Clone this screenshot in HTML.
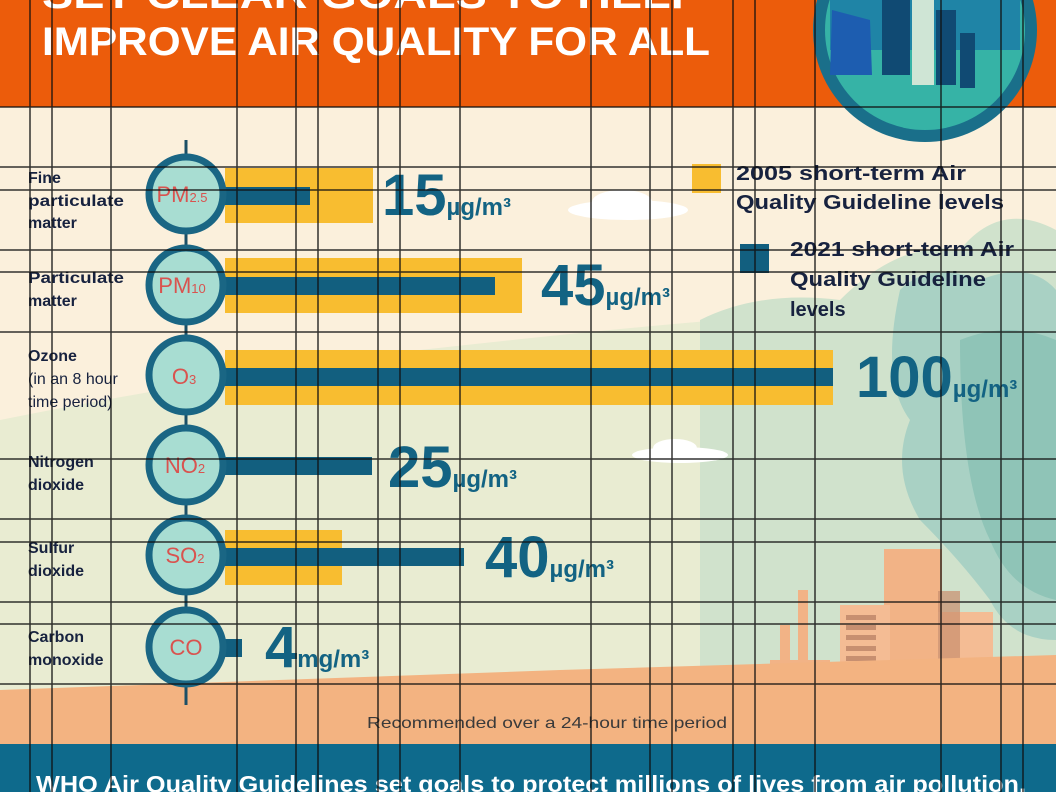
<!DOCTYPE html>
<html><head><meta charset="utf-8"><style>
html,body{margin:0;padding:0;width:1056px;height:792px;overflow:hidden;background:#fbf0dc}
svg{display:block}
text{font-family:"Liberation Sans","DejaVu Sans",sans-serif}
</style></head><body>
<svg width="1056" height="792" viewBox="0 0 1056 792" xmlns="http://www.w3.org/2000/svg">
<rect width="1056" height="792" fill="#fbf0dc"/>
<path d="M0 420 Q200 380 420 350 Q600 330 720 320 Q800 300 900 300 L1056 290 L1056 700 L0 700Z" fill="#e9ecd2"/>
<path d="M700 320 Q760 290 840 300 Q900 240 960 250 Q1000 200 1056 230 L1056 690 L700 690Z" fill="#d0e2cc"/>
<path d="M900 290 Q930 260 980 280 Q1030 260 1056 290 L1056 640 Q1010 640 990 600 Q960 560 920 520 Q890 470 910 420 Q880 380 900 290Z" fill="#a9d1c4"/>
<path d="M960 340 Q1010 320 1056 340 L1056 600 Q1010 590 990 540 Q960 480 960 340Z" fill="#8fc4b7"/>
<ellipse cx="628" cy="210" rx="60" ry="10" fill="#fff"/>
<ellipse cx="622" cy="202" rx="30" ry="12" fill="#fff"/>
<ellipse cx="680" cy="455" rx="48" ry="8" fill="#fff"/>
<ellipse cx="675" cy="448" rx="22" ry="9" fill="#fff"/>
<g fill="#f2b386">
<rect x="884" y="549" width="58" height="145"/>
<rect x="840" y="605" width="50" height="90" fill="#f4bc94"/>
<rect x="938" y="612" width="55" height="80" fill="#f4bc94"/>
<rect x="798" y="590" width="10" height="104"/>
<rect x="780" y="625" width="10" height="70"/>
<rect x="770" y="660" width="60" height="34"/>
</g>
<rect x="938" y="591" width="22" height="100" fill="#c98e6e" opacity=".7"/>
<g fill="#c78f70"><rect x="846" y="615" width="30" height="5"/><rect x="846" y="625" width="30" height="5"/><rect x="846" y="635" width="30" height="5"/><rect x="846" y="646" width="30" height="5"/><rect x="846" y="656" width="30" height="5"/><rect x="846" y="667" width="30" height="5"/><rect x="846" y="678" width="30" height="5"/></g>
<path d="M0 690 L560 670 L1056 655 L1056 744 L0 744Z" fill="#f3b381"/>
<rect width="1056" height="107" fill="#ec5c0b"/>
<text x="42" y="8" fill="#fff" font-size="40" font-weight="bold" textLength="660" lengthAdjust="spacingAndGlyphs">SET CLEAR GOALS TO HELP</text>
<text x="42" y="55" fill="#fff" font-size="40" font-weight="bold" textLength="668" lengthAdjust="spacingAndGlyphs">IMPROVE AIR QUALITY FOR ALL</text>
<circle cx="925" cy="30" r="112" fill="#1a6f8a"/>
<circle cx="925" cy="30" r="100" fill="#36b3a6"/>
<rect x="830" y="-10" width="190" height="60" fill="#1f84a6"/>
<rect x="882" y="-5" width="28" height="80" fill="#104a73"/>
<rect x="912" y="-5" width="22" height="90" fill="#cfe5d5"/>
<rect x="936" y="10" width="20" height="75" fill="#104a73"/>
<rect x="960" y="33" width="15" height="55" fill="#104a73"/>
<path d="M832 10 L870 20 L872 75 L830 75Z" fill="#1d5db0"/>
<line x1="186" y1="140" x2="186" y2="705" stroke="#1b4f66" stroke-width="3"/>
<g fill="#f8bd30">
<rect x="225" y="168" width="148" height="55"/>
<rect x="225" y="258" width="297" height="55"/>
<rect x="225" y="350" width="608" height="55"/>
<rect x="225" y="530" width="117" height="55"/>
</g>
<g fill="#125f7f">
<rect x="225" y="187" width="85" height="18"/>
<rect x="225" y="277" width="270" height="18"/>
<rect x="225" y="368" width="608" height="18"/>
<rect x="225" y="457" width="147" height="18"/>
<rect x="225" y="548" width="239" height="18"/>
<rect x="225" y="639" width="17" height="18"/>
</g>
<g stroke="#1a6684" stroke-width="7" fill="#a8ddd2">
<circle cx="186" cy="194" r="37"/><circle cx="186" cy="285" r="37"/><circle cx="186" cy="375" r="37"/>
<circle cx="186" cy="465" r="37"/><circle cx="186" cy="555" r="37"/><circle cx="186" cy="647" r="37"/>
</g>
<g fill="#d9534f" font-size="22" text-anchor="middle">
<text x="182" y="202">PM<tspan font-size="13">2.5</tspan></text>
<text x="182" y="293">PM<tspan font-size="13">10</tspan></text>
<text x="184" y="384">O<tspan font-size="13">3</tspan></text>
<text x="185" y="473">NO<tspan font-size="13">2</tspan></text>
<text x="185" y="563">SO<tspan font-size="13">2</tspan></text>
<text x="186" y="655">CO</text>
</g>
<g fill="#17223f" font-size="16" font-weight="bold">
<text x="28" y="183">Fine</text><text x="28" y="206" textLength="96" lengthAdjust="spacingAndGlyphs">particulate</text><text x="28" y="228">matter</text>
<text x="28" y="283" textLength="96" lengthAdjust="spacingAndGlyphs">Particulate</text><text x="28" y="306">matter</text>
<text x="28" y="361">Ozone</text>
<text x="28" y="467">Nitrogen</text><text x="28" y="490">dioxide</text>
<text x="28" y="553">Sulfur</text><text x="28" y="576">dioxide</text>
<text x="28" y="642">Carbon</text><text x="28" y="665">monoxide</text>
</g>
<g fill="#17223f" font-size="16"><text x="28" y="384">(in an 8 hour</text><text x="28" y="407">time period)</text></g>
<g fill="#136383" font-weight="bold">
<text x="382" y="215" font-size="58">15<tspan font-size="24">µg/m³</tspan></text>
<text x="541" y="305" font-size="58">45<tspan font-size="24">µg/m³</tspan></text>
<text x="856" y="397" font-size="58">100<tspan font-size="24">µg/m³</tspan></text>
<text x="388" y="487" font-size="58">25<tspan font-size="24">µg/m³</tspan></text>
<text x="485" y="577" font-size="58">40<tspan font-size="24">µg/m³</tspan></text>
<text x="265" y="667" font-size="58">4<tspan font-size="24">mg/m³</tspan></text>
</g>
<rect x="692" y="164" width="29" height="29" fill="#f8bd30"/>
<rect x="740" y="244" width="29" height="29" fill="#125f7f"/>
<g fill="#17223f" font-size="20" font-weight="bold">
<text x="736" y="180" textLength="230" lengthAdjust="spacingAndGlyphs">2005 short-term Air</text><text x="736" y="209" textLength="268" lengthAdjust="spacingAndGlyphs">Quality Guideline levels</text>
<text x="790" y="256" textLength="224" lengthAdjust="spacingAndGlyphs">2021 short-term Air</text><text x="790" y="286" textLength="196" lengthAdjust="spacingAndGlyphs">Quality Guideline</text><text x="790" y="316">levels</text>
</g>
<text x="367" y="728" font-size="16" fill="#3a3a3a" textLength="360" lengthAdjust="spacingAndGlyphs">Recommended over a 24-hour time period</text>
<rect x="0" y="744" width="1056" height="48" fill="#0e6a8c"/>
<text x="36" y="792" font-size="23" font-weight="bold" fill="#fff" textLength="990" lengthAdjust="spacingAndGlyphs">WHO Air Quality Guidelines set goals to protect millions of lives from air pollution.</text>
<g stroke="#111" stroke-width="1.5" opacity=".85">
<line x1="30" y1="0" x2="30" y2="792"/><line x1="52" y1="0" x2="52" y2="792"/><line x1="111" y1="0" x2="111" y2="792"/>
<line x1="237" y1="0" x2="237" y2="792"/><line x1="296" y1="0" x2="296" y2="792"/><line x1="318" y1="0" x2="318" y2="792"/>
<line x1="378" y1="0" x2="378" y2="792"/><line x1="400" y1="0" x2="400" y2="792"/><line x1="460" y1="0" x2="460" y2="792"/>
<line x1="591" y1="0" x2="591" y2="792"/><line x1="650" y1="0" x2="650" y2="792"/><line x1="672" y1="0" x2="672" y2="792"/>
<line x1="733" y1="0" x2="733" y2="792"/><line x1="755" y1="0" x2="755" y2="792"/><line x1="815" y1="0" x2="815" y2="792"/>
<line x1="941" y1="0" x2="941" y2="792"/><line x1="1001" y1="0" x2="1001" y2="792"/><line x1="1023" y1="0" x2="1023" y2="792"/>
<line x1="0" y1="107" x2="1056" y2="107"/><line x1="0" y1="167" x2="1056" y2="167"/><line x1="0" y1="190" x2="1056" y2="190"/>
<line x1="0" y1="250" x2="1056" y2="250"/><line x1="0" y1="272" x2="1056" y2="272"/><line x1="0" y1="332" x2="1056" y2="332"/>
<line x1="0" y1="459" x2="1056" y2="459"/><line x1="0" y1="519" x2="1056" y2="519"/><line x1="0" y1="542" x2="1056" y2="542"/>
<line x1="0" y1="602" x2="1056" y2="602"/><line x1="0" y1="624" x2="1056" y2="624"/><line x1="0" y1="684" x2="1056" y2="684"/>
</g>
</svg>
</body></html>
